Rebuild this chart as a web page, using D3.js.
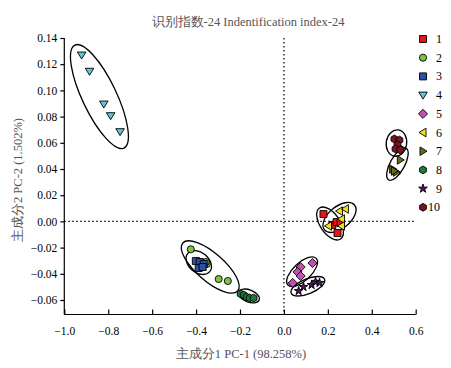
<!DOCTYPE html>
<html><head><meta charset="utf-8">
<script src="https://cdn.jsdelivr.net/npm/d3@7"></script>
<style>body{margin:0;background:#fff}svg{display:block}</style>
</head><body><svg id="c" width="451" height="368"></svg>
<script>
const groups = ["1","2","3","4","5","6","7","8","9","10"];
const colors = ["#e8141c","#7cc243","#2b4fa6","#5ec6d6","#c24fb4","#f0e41c","#6b6820","#1c7a3a","#4a1858","#7a1422"];
const shapes = ["square","circle","square","triDown","diamond","triLeft","triRight","hexagon","star","hexagon"];
const xs = [
  [0.180,0.221,0.240,0.244,0.258],
  [-0.424,-0.351,-0.356,-0.297,-0.2555],
  [-0.401,-0.383,-0.365,-0.388,-0.370],
  [-0.921,-0.885,-0.820,-0.789,-0.746],
  [0.076,0.130,0.062,0.076,0.040],
  [0.253,0.280,0.262,0.203,0.262],
  [0.540,0.530,0.495,0.512,0.503],
  [-0.197,-0.183,-0.170,-0.156,-0.138],
  [0.067,0.089,0.126,0.144,0.162],
  [0.503,0.526,0.517,0.508,0.530]
];
const ys = [
  [0.0056,-0.0027,-0.0005,-0.0089,-0.0012],
  [-0.0213,-0.0325,-0.031,-0.044,-0.0455],
  [-0.0302,-0.031,-0.0325,-0.0356,-0.0348],
  [0.127,0.1146,0.0896,0.0807,0.0685],
  [-0.0348,-0.0318,-0.0386,-0.0417,-0.047],
  [0.0079,0.0095,0.0018,-0.0035,-0.0035],
  [0.0553,0.0469,0.040,0.0377,0.0385],
  [-0.0554,-0.0562,-0.0577,-0.0585,-0.0585],
  [-0.0531,-0.050,-0.0485,-0.0461,-0.0469],
  [0.0629,0.0621,0.0583,0.0553,0.0545]
];
// confidence ellipses: centre, one end of the major axis (data units), minor/major ratio
const ellCx = [0.210,-0.3355,-0.3877,-0.84,0.0827,0.2532,0.5168,-0.1591,0.1091,0.5123];
const ellCy = [-0.0016,-0.0348,-0.0314,0.0953,-0.0384,0.003,0.0437,-0.0569,-0.0495,0.0598];
const ellEx = [0.258,-0.2105,-0.3377,-0.7286,0.1473,0.3214,0.5564,-0.1127,0.185,0.5214];
const ellEy = [-0.0134,-0.0531,-0.0384,0.056,-0.0282,0.0125,0.0558,-0.060,-0.0442,0.0698];
const ellRatio = [0.53,0.38,0.7,0.3,0.46,0.56,0.4,0.55,0.41,0.77];
const xTicks = [-1.0,-0.8,-0.6,-0.4,-0.2,0.0,0.2,0.4,0.6];
const yTicks = [0.14,0.12,0.10,0.08,0.06,0.04,0.02,0.00,-0.02,-0.04,-0.06];

const svg = d3.select("#c");
const L=64.3, R=415.7, T=38, B=314.5;
const x = d3.scaleLinear().domain([-1.0,0.6]).range([L,R]);
const y = d3.scaleLinear().domain([0.14,-0.06]).range([T,300]);
const serif = "'Liberation Serif','Times New Roman',serif";

// zero lines
svg.append("line").attr("x1",L).attr("x2",R).attr("y1",y(0)).attr("y2",y(0))
  .attr("stroke","#000").attr("stroke-width",1.2).attr("stroke-dasharray","1.5,2.5");
svg.append("line").attr("x1",x(0)).attr("x2",x(0)).attr("y1",T).attr("y2",B)
  .attr("stroke","#000").attr("stroke-width",1.2).attr("stroke-dasharray","1.5,2.5");

// axes
const gx = svg.append("g").attr("transform",`translate(0,${B})`)
  .call(d3.axisBottom(x).tickValues(xTicks).tickFormat(d3.format(".1f")).tickSize(-5).tickSizeOuter(0).tickPadding(12));
const gy = svg.append("g").attr("transform",`translate(${L},0)`)
  .call(d3.axisLeft(y).tickValues(yTicks).tickFormat(d3.format(".2f")).tickSize(4).tickSizeOuter(0).tickPadding(3));
gy.select(".domain").attr("d",`M-0,${T}V${B}`);
[gx,gy].forEach(g=>{
  g.selectAll("text").attr("font-family",serif).attr("font-size",11.5).attr("fill","#000");
  g.selectAll("line,path").attr("stroke","#000").attr("stroke-width",1.2);
});
gx.select(".domain").attr("d",`M${L},0H${R}`);
gx.selectAll(".tick line").attr("y2",-5);

// ellipses
groups.forEach((g,i)=>{
  const cx=x(ellCx[i]), cy=y(ellCy[i]), ex=x(ellEx[i]), ey=y(ellEy[i]);
  const a=Math.hypot(ex-cx,ey-cy), ang=Math.atan2(ey-cy,ex-cx)*180/Math.PI;
  svg.append("ellipse").attr("cx",cx).attr("cy",cy).attr("rx",a).attr("ry",a*ellRatio[i])
    .attr("transform",`rotate(${ang},${cx},${cy})`)
    .attr("fill","none").attr("stroke","#000").attr("stroke-width",1.3);
});

function sym(shape){
  const s=3.5;
  switch(shape){
    case "square": return `M${-s},${-s}h${2*s}v${2*s}h${-2*s}Z`;
    case "circle": return d3.symbol(d3.symbolCircle,40)();
    case "diamond": return `M0,${-s*1.3}L${s*1.3},0L0,${s*1.3}L${-s*1.3},0Z`;
    case "triDown": return `M${-4.3},${-3}L${4.3},${-3}L0,${4}Z`;
    case "triLeft": return `M${-4},0L${3},${-4.3}L${3},${4.3}Z`;
    case "triRight": return `M${4},0L${-3},${-4.3}L${-3},${4.3}Z`;
    case "hexagon": { const p=d3.range(6).map(k=>{const t=Math.PI/3*k+Math.PI/6;return [3.9*Math.cos(t),3.9*Math.sin(t)];}); return "M"+p.join("L")+"Z"; }
    case "star": return d3.symbol(d3.symbolStar,24)();
  }
}

groups.forEach((g,i)=>{
  xs[i].forEach((vx,j)=>{
    svg.append("path").attr("d",sym(shapes[i]))
      .attr("transform",`translate(${x(vx)},${y(ys[i][j])})`)
      .attr("fill",colors[i]).attr("stroke","#000").attr("stroke-width",0.9);
  });
});

// legend
groups.forEach((g,i)=>{
  const ly = 39 + i*18.7;
  svg.append("path").attr("d",sym(shapes[i])).attr("transform",`translate(423,${ly})`)
    .attr("fill",colors[i]).attr("stroke","#000").attr("stroke-width",0.9);
  svg.append("text").attr("x", i===9?428:436).attr("y",ly+4).text(g)
    .attr("font-family",serif).attr("font-size",12).attr("fill","#000");
});

// titles
svg.append("text").attr("x",248).attr("y",26).attr("text-anchor","middle")
  .attr("font-family",serif).attr("font-size",12.5).attr("fill","#555")
  .text("识别指数-24 Indentification index-24");
svg.append("text").attr("x",241).attr("y",358).attr("text-anchor","middle")
  .attr("font-family",serif).attr("font-size",12.5).attr("fill","#555")
  .text("主成分1 PC-1 (98.258%)");
svg.append("text").attr("transform","translate(22,180) rotate(-90)").attr("text-anchor","middle")
  .attr("font-family",serif).attr("font-size",12.5).attr("fill","#555")
  .text("主成分2 PC-2 (1.502%)");
</script></body></html>
